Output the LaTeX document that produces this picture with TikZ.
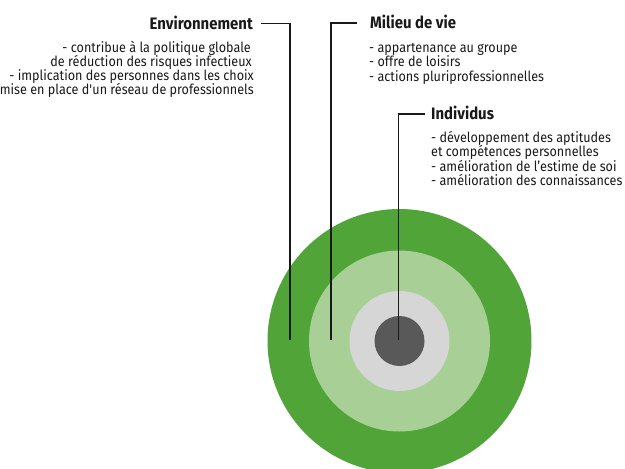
\documentclass[tikz,border=0pt]{standalone}
\usepackage{fontspec}
\setmainfont[FakeStretch=0.9]{Fira Sans}
\definecolor{gOuter}{RGB}{80,164,56}
\definecolor{gMid}{RGB}{168,208,150}
\definecolor{gLight}{RGB}{214,214,214}
\definecolor{gDark}{RGB}{89,89,89}
\definecolor{ink}{RGB}{25,25,25}
\begin{document}
\begin{tikzpicture}[x=1pt,y=-1pt,
  body/.style={font=\fontsize{14}{16}\selectfont, inner sep=0pt, text=ink},
  head/.style={font=\fontsize{16.6}{19}\selectfont\bfseries, inner sep=0pt, text=ink},
  ring/.style={circle, inner sep=0pt, draw=none},
  leader/.style={line width=1.8pt, ink}]
\clip (0,0) rectangle (625,469);
\useasboundingbox (0,0) rectangle (625,469);
% rings
\node[ring, fill=gOuter, minimum size=264pt] (outer) at (399.5,341) {};
\node[ring, fill=gMid, minimum size=181pt] (mid) at (399.5,341) {};
\node[ring, fill=gLight, minimum size=100pt] (light) at (399.5,341) {};
\node[ring, fill=gDark, minimum size=50pt] (core) at (399.5,341) {};
% Environnement
\node[head, anchor=base east] (envh) at (253,29) {Environnement};
\node[body, anchor=base east] (env1) at (251,52.5) {- contribue à la politique globale};
\node[body, anchor=base east] (env2) at (252,66.5) {de réduction des risques infectieux};
\node[body, anchor=base east] (env3) at (254,80.5) {- implication des personnes dans les choix};
\node[body, anchor=base east] (env4) at (254,94.5) {- mise en place d\textquotesingle un réseau de professionnels};
% Milieu de vie
\node[head, anchor=base west] (milh) at (370,28.5) {Milieu de vie};
\node[body, anchor=base west] (mil1) at (369,52) {- appartenance au groupe};
\node[body, anchor=base west] (mil2) at (369,66.5) {- offre de loisirs};
\node[body, anchor=base west] (mil3) at (369,81) {- actions pluriprofessionnelles};
% Individus
\node[head, anchor=base west] (indh) at (431,119) {Individus};
\node[body, anchor=base west] (ind1) at (431,142.5) {- développement des aptitudes};
\node[body, anchor=base west] (ind2) at (431,156.5) {et compétences personnelles};
\node[body, anchor=base west] (ind3) at (431,171) {- amélioration de l’estime de soi};
\node[body, anchor=base west] (ind4) at (431,185) {- amélioration des connaissances};
% leaders
\coordinate (e0) at (261,23.5);
\coordinate (e1) at (290,339.5);
\coordinate (m0) at (357,23);
\coordinate (m1) at (331,339.5);
\coordinate (i0) at (425,114);
\coordinate (i1) at (398.5,339.5);
\draw[leader] (e0) -| (e1);
\draw[leader] (m0) -| (m1);
\draw[leader] (i0) -| (i1);
\end{tikzpicture}
\end{document}
